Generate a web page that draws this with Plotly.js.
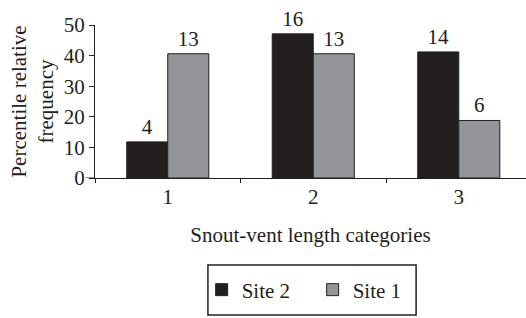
<!DOCTYPE html>
<html>
<head>
<meta charset="utf-8">
<script src="https://cdn.plot.ly/plotly-3.0.1.min.js"></script>
<style>html,body{margin:0;padding:0;background:#fff}#chart{width:526px;height:318px}</style>
</head>
<body>
<div id="chart"></div>
<script>
const categories = ['1', '2', '3'];
const site2Values = [11.8, 47.1, 41.2];
const site1Values = [40.6, 40.6, 18.8];
const site2Counts = ['4', '16', '14'];
const site1Counts = ['13', '13', '6'];
const yTicks = [0, 10, 20, 30, 40, 50];

const FONT = 'Liberation Serif, Times New Roman, serif';
const FS = 21;

const traces = [
  {
    type: 'bar', name: 'Site 2', x: categories, y: site2Values,
    text: site2Counts, textposition: 'outside', cliponaxis: false,
    textfont: {family: FONT, size: FS, color: '#231f20'},
    marker: {color: '#231f20', line: {color: '#231f20', width: 1}}
  },
  {
    type: 'bar', name: 'Site 1', x: categories, y: site1Values,
    text: site1Counts, textposition: 'outside', cliponaxis: false,
    textfont: {family: FONT, size: FS, color: '#231f20'},
    marker: {color: '#939598', line: {color: '#231f20', width: 1}}
  }
];

const layout = {
  width: 526, height: 318,
  margin: {l: 95, r: 0, t: 25, b: 140},
  paper_bgcolor: '#fff', plot_bgcolor: '#fff',
  font: {family: FONT, size: FS, color: '#231f20'},
  barmode: 'group', bargap: 0.436, bargroupgap: 0,
  showlegend: true,
  legend: {
    orientation: 'h', x: 0.505, xanchor: 'center', y: -0.732, yanchor: 'middle',
    borderwidth: 0, bgcolor: 'rgba(0,0,0,0)',
    font: {family: FONT, size: FS, color: '#231f20'},
    itemwidth: 30, entrywidth: 66, entrywidthmode: 'pixels', traceorder: 'normal'
  },
  xaxis: {
    type: 'category', range: [-0.5, 2.462],
    showline: true, linecolor: '#231f20', linewidth: 1,
    ticks: 'outside', tickson: 'boundaries', ticklen: 4, tickcolor: '#231f20',
    showgrid: false, zeroline: false,
    tickfont: {family: FONT, size: FS},
    title: {text: 'Snout-vent length categories', font: {family: FONT, size: FS}, standoff: 19}
  },
  yaxis: {
    range: [0, 50], tickvals: yTicks,
    showline: true, linecolor: '#231f20', linewidth: 1,
    ticks: 'outside', ticklen: 5, tickcolor: '#231f20',
    showgrid: false, zeroline: false,
    tickfont: {family: FONT, size: FS},
    title: {text: 'Percentile relative<br>frequency', font: {family: FONT, size: FS}, standoff: 4}
  },
  shapes: [
    {type: 'line', xref: 'paper', yref: 'y', x0: -0.022, x1: 0, y0: 0, y1: 0,
     line: {color: '#231f20', width: 1}},
    {type: 'rect', xref: 'paper', yref: 'paper', x0: 0.262, x1: 0.745, y0: -0.569, y1: -0.895,
     line: {color: '#231f20', width: 1.5}, fillcolor: 'rgba(0,0,0,0)'}
  ]
};

Plotly.newPlot('chart', traces, layout, {displayModeBar: false, staticPlot: true});
</script>
</body>
</html>
